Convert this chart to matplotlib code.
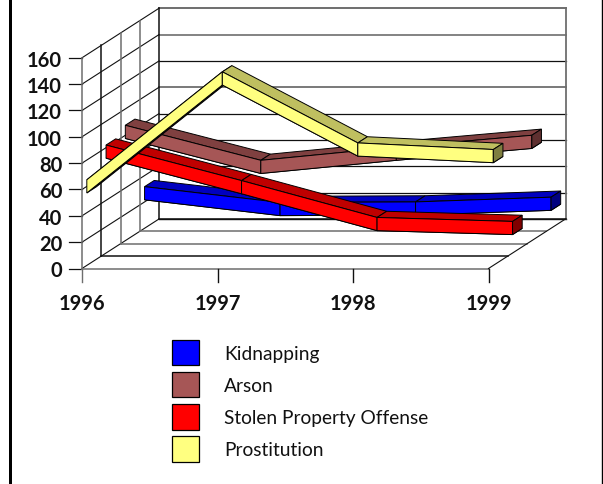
# -*- coding:utf-8 -*-
import matplotlib
matplotlib.use('Agg')
import matplotlib.pyplot as plt
from matplotlib.patches import Patch, Polygon

plt.rcParams['font.family'] = ['Lato', 'DejaVu Sans']

years = ['1996', '1997', '1998', '1999']
y_ticks = [0, 20, 40, 60, 80, 100, 120, 140, 160]

# front to back
prostitution = [60, 142, 88, 83]
stolen = [77, 50, 22, 19]
arson = [82.6, 56, 66, 75]
kidnapping = [26.6, 14.6, 15, 18.6]

names = ['Kidnapping', 'Arson', 'Stolen Property Offense', 'Prostitution']
series_values = [kidnapping, arson, stolen, prostitution]
# front, top, end cap
series_colors = [
    ('#0000ff', '#0000bf', '#00007f'),
    ('#a65656', '#7f4040', '#5f3030'),
    ('#ff0000', '#bf0000', '#7f0000'),
    ('#ffff80', '#bfbf60', '#7f7f40'),
]
series_slots = [3, 2, 1, 0]

# projection of the fake 3d box, in pixels
X0, X_STEP = 82, 135.5
Y0, Y_UNIT = 269.5, 1.317
DX, DY = 19.25, -12.38
THICK = 5  # half height of a ribbon in data units


def project(i, depth, value):
    return (X0 + i * X_STEP + depth * DX, Y0 - value * Y_UNIT + depth * DY)


fig = plt.figure(figsize=(6.03, 4.85), dpi=100)
ax = fig.add_axes([0, 0, 1, 1])
ax.set_xlim(0, 603)
ax.set_ylim(485, 0)
ax.axis('off')

GRAY = '#6e6e6e'
DARK = '#111111'
last = len(years) - 1
top = y_ticks[-1]

# back wall and left wall
wall_colors = [DARK, DARK, DARK, DARK, DARK, GRAY, DARK, GRAY, GRAY]
wall_widths = [1.0, 0.9, 0.9, 0.9, 0.9, 1.3, 0.9, 1.2, 1.4]
for v, c, w in zip(y_ticks, wall_colors, wall_widths):
    a = project(0, 4, v)
    b = project(last, 4, v)
    ax.plot([a[0], b[0]], [a[1], b[1]], color=c, lw=w, zorder=1)
    f = project(0, 0, v)
    ax.plot([f[0], a[0]], [f[1], a[1]], color=DARK, lw=0.8, zorder=1)
    ax.plot([f[0] - 13, f[0]], [f[1], f[1]], color=DARK, lw=0.9, zorder=1)
    ax.text(f[0] - 20, f[1] + 2, str(v), ha='right', va='center',
            fontsize=14.5, fontweight='bold', color='#111111')

# right edge of the back wall
a = project(last, 4, 0)
b = project(last, 4, top)
ax.plot([a[0], b[0]], [a[1], b[1]], color=GRAY, lw=1.3, zorder=1)

# verticals of the left wall and floor lines
depth_colors = [GRAY, DARK, GRAY, GRAY, DARK]
for d, c in zip(range(5), depth_colors):
    a = project(0, d, 0)
    b = project(0, d, top)
    ax.plot([a[0], b[0]], [a[1], b[1]], color=c, lw=1.1, zorder=1)
    e = project(last, d, 0)
    ax.plot([a[0], e[0]], [a[1], e[1]], color=c, lw=1.1, zorder=1)

# floor side edge
a = project(last, 0, 0)
b = project(last, 4, 0)
ax.plot([a[0], b[0]], [a[1], b[1]], color=DARK, lw=0.8, zorder=1)

# year ticks
for i, year in enumerate(years):
    p = project(i, 0, 0)
    ax.plot([p[0], p[0]], [p[1], p[1] + 13], color=GRAY if i == 0 else DARK, lw=1.0, zorder=1)
    ax.text(p[0], p[1] + 34.5, year, ha='center', va='center',
            fontsize=14.5, fontweight='bold', color='#111111')


def draw_ribbon(values, slot, colors, z):
    d0 = slot + 0.25
    d1 = slot + 0.75
    front, upper, cap = colors
    for i in range(len(values) - 1):
        v0, v1 = values[i], values[i + 1]
        # underside, only shows on steep rises
        ax.add_patch(Polygon([project(i, d0, v0 - THICK), project(i + 1, d0, v1 - THICK),
                              project(i + 1, d1, v1 - THICK), project(i, d1, v0 - THICK)],
                             fc='#222222', ec='black', lw=0.7, zorder=z))
        ax.add_patch(Polygon([project(i, d0, v0 + THICK), project(i + 1, d0, v1 + THICK),
                              project(i + 1, d1, v1 + THICK), project(i, d1, v0 + THICK)],
                             fc=upper, ec='black', lw=0.7, zorder=z))
    for i in range(len(values) - 1):
        v0, v1 = values[i], values[i + 1]
        ax.add_patch(Polygon([project(i, d0, v0 + THICK), project(i + 1, d0, v1 + THICK),
                              project(i + 1, d0, v1 - THICK), project(i, d0, v0 - THICK)],
                             fc=front, ec='black', lw=0.7, zorder=z + 0.1))
    n = len(values) - 1
    ax.add_patch(Polygon([project(n, d0, values[n] + THICK), project(n, d1, values[n] + THICK),
                          project(n, d1, values[n] - THICK), project(n, d0, values[n] - THICK)],
                         fc=cap, ec='black', lw=0.7, zorder=z + 0.1))


for k in range(len(names)):
    draw_ribbon(series_values[k], series_slots[k], series_colors[k], 2 + k)

# page border
ax.axvspan(9.3, 12, color='black', lw=0, zorder=6)
ax.axvline(601.8, color='black', lw=1.0, zorder=6)

handles = [Patch(fc=c[0], ec='black', lw=0.9) for c in series_colors]
ax.legend(handles, names, loc='upper left', bbox_to_anchor=(172 / 603, 1 - 341 / 485),
          frameon=False, fontsize=13.8, borderpad=0, borderaxespad=0,
          handlelength=1.41, handleheight=1.65, handletextpad=1.3, labelspacing=0.36,
          labelcolor='#111111')

fig.savefig('out.png', dpi=100)
